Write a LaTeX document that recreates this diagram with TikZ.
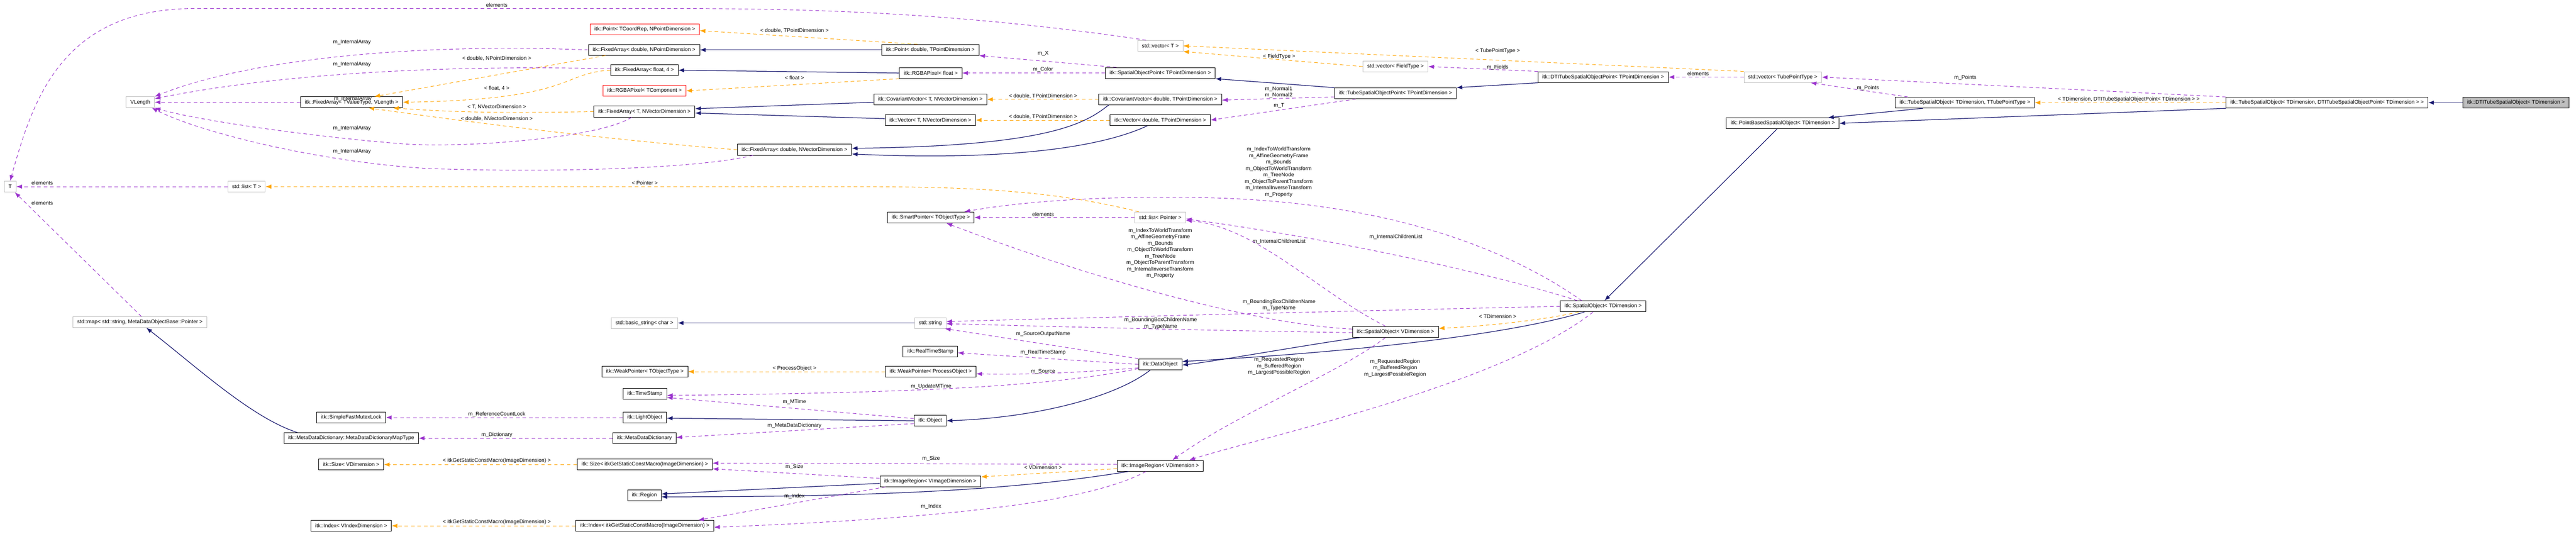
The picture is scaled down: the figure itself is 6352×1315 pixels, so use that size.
\documentclass[tikz,border=0pt]{standalone}
\usepackage{fontspec}
\setmainfont{Liberation Sans}
\usetikzlibrary{arrows.meta}
\definecolor{blue0}{HTML}{191970}
\definecolor{purp}{HTML}{9A32CD}
\definecolor{orng}{HTML}{FFA500}
\newcommand\dgfont{\fontsize{3.7}{4.5}\selectfont}
\tikzset{
 box/.style={draw=black, line width=0.35pt, fill=white, minimum height=7.6pt, inner xsep=3pt, inner ysep=0pt, font=\dgfont},
 gbox/.style={box, draw=black!25},
 rbox/.style={box, draw=red},
 inh/.style={draw=blue0, line width=0.45pt, -{Latex[length=4pt,width=3pt]}},
 use/.style={draw=purp, line width=0.35pt, dash pattern=on 2.5pt off 2pt, -{Latex[length=4pt,width=3pt]}},
 tpl/.style={draw=orng, line width=0.35pt, dash pattern=on 2.5pt off 2pt, -{Latex[length=4pt,width=3pt]}},
 lab/.style={font=\dgfont, inner sep=0pt, align=center},
}
\begin{document}
\begin{tikzpicture}[x=0.2834pt,y=-0.2834pt]
\useasboundingbox[fill=white] (0,0) rectangle (6352,1315);
% nodes
\node[gbox] (T) at (25,460) {T};
\node[gbox] (VLength) at (346,252) {VLength};
\node[box] (faTVL) at (867,252) {itk::FixedArray< TValueType, VLength >};
\node[gbox] (listT) at (608,460) {std::list< T >};
\node[gbox] (map) at (345,794) {std::map< std::string, MetaDataObjectBase::Pointer >};
\node[rbox] (pointT) at (1590,72) {itk::Point< TCoordRep, NPointDimension >};
\node[box] (faDNP) at (1588,123) {itk::FixedArray< double, NPointDimension >};
\node[box] (fa4) at (1589,173) {itk::FixedArray< float, 4 >};
\node[rbox] (rgbaT) at (1589,224) {itk::RGBAPixel< TComponent >};
\node[box] (faTNV) at (1589,275) {itk::FixedArray< T, NVectorDimension >};
\node[box] (faDNV) at (1959,369) {itk::FixedArray< double, NVectorDimension >};
\node[box] (ptD) at (2294,123) {itk::Point< double, TPointDimension >};
\node[box] (rgbaF) at (2295,180) {itk::RGBAPixel< float >};
\node[box] (covT) at (2294,245) {itk::CovariantVector< T, NVectorDimension >};
\node[box] (vecT2) at (2294,296) {itk::Vector< T, NVectorDimension >};
\node[box] (smart) at (2295,536) {itk::SmartPointer< TObjectType >};
\node[gbox] (vecT) at (2861,113) {std::vector< T >};
\node[box] (sop) at (2861,180) {itk::SpatialObjectPoint< TPointDimension >};
\node[box] (covD) at (2861,245) {itk::CovariantVector< double, TPointDimension >};
\node[box] (vecD) at (2861,296) {itk::Vector< double, TPointDimension >};
\node[gbox] (listP) at (2861,536) {std::list< Pointer >};
\node[box] (tubePt) at (3441,230) {itk::TubeSpatialObjectPoint< TPointDimension >};
\node[gbox] (vecField) at (3441,164) {std::vector< FieldType >};
\node[box] (dtiPt) at (3953,190) {itk::DTITubeSpatialObjectPoint< TPointDimension >};
\node[gbox] (vecTube) at (4396,190) {std::vector< TubePointType >};
\node[box] (pbso) at (4396,304) {itk::PointBasedSpatialObject< TDimension >};
\node[box] (tsoT) at (4845,253) {itk::TubeSpatialObject< TDimension, TTubePointType >};
\node[box] (tsoD) at (5738,253) {itk::TubeSpatialObject< TDimension, DTITubeSpatialObjectPoint< TDimension > >};
\node[box, fill=black!25] (dti) at (6204,253) {itk::DTITubeSpatialObject< TDimension >};
\node[box] (so) at (3953,755) {itk::SpatialObject< TDimension >};
\node[box] (soV) at (3441,818) {itk::SpatialObject< VDimension >};
\node[box] (sfml) at (866,1029) {itk::SimpleFastMutexLock};
\node[box] (mapType) at (866,1080) {itk::MetaDataDictionary::MetaDataDictionaryMapType};
\node[box] (sizeV) at (866,1145) {itk::Size< VDimension >};
\node[box] (indexV) at (866,1296) {itk::Index< VIndexDimension >};
\node[gbox] (bstr) at (1589,796) {std::basic\_string< char >};
\node[box] (wpT) at (1590,916) {itk::WeakPointer< TObjectType >};
\node[box] (ts) at (1590,971) {itk::TimeStamp};
\node[box] (lo) at (1590,1029) {itk::LightObject};
\node[box] (mdd) at (1589,1080) {itk::MetaDataDictionary};
\node[box] (sizeG) at (1590,1145) {itk::Size< itkGetStaticConstMacro(ImageDimension) >};
\node[box] (region) at (1589,1221) {itk::Region};
\node[box] (indexG) at (1590,1296) {itk::Index< itkGetStaticConstMacro(ImageDimension) >};
\node[box] (wpP) at (2295,916) {itk::WeakPointer< ProcessObject >};
\node[box] (imRegVI) at (2294,1186) {itk::ImageRegion< VImageDimension >};
\node[gbox] (str) at (2294,796) {std::string};
\node[box] (rts) at (2294,866) {itk::RealTimeStamp};
\node[box] (dobj) at (2861,898) {itk::DataObject};
\node[box] (obj) at (2294,1037) {itk::Object};
\node[box] (imReg) at (2861,1148) {itk::ImageRegion< VDimension >};
% edges
\draw[tpl] (tsoD.west) -- (tsoT.east);
\draw[inh] (dti.west) -- (tsoD.east);
\draw[inh] (tsoD.south west) -- (pbso.east);
\draw[inh] ([xshift=19.5pt]tsoT.south west) -- ([xshift=-8pt]pbso.north east);
\draw[use] (tsoD.north west) -- (vecTube.east);
\draw[use] ([xshift=9pt]tsoT.north west) -- ([xshift=19.5pt]vecTube.south);
\draw[use] (vecTube.west) -- (dtiPt.east);
\draw[tpl] (vecTube.north west) -- (vecT.east);
\draw[inh] (dtiPt.south west) -- (tubePt.north east);
\draw[use] (dtiPt.north west) -- (vecField.east);
\draw[tpl] (vecField.west) -- (vecT.south east);
\draw[use] ([xshift=6pt]vecT.north west) .. controls (2300,21) and (1900,21) .. (1600,21) -- (480,21) .. controls (150,21) and (80,250) .. (T.north);
\draw[inh] (tubePt.north west) -- (sop.south east);
\draw[use] ([yshift=-2.5pt]tubePt.west) -- ([yshift=-0.5pt]covD.east);
\draw[use] ([xshift=15pt]tubePt.south west) -- (vecD.east);
\draw[use] ([xshift=8pt]sop.north west) -- (ptD.south east);
\draw[use] (sop.west) -- (rgbaF.east);
\draw[tpl] ([xshift=-9pt]ptD.north) -- ([yshift=-1pt]pointT.east);
\draw[inh] (ptD.west) -- (faDNP.east);
\draw[inh] (rgbaF.west) -- (fa4.east);
\draw[tpl] (rgbaF.south west) -- (rgbaT.east);
\draw[tpl] (covD.west) -- (covT.east);
\draw[tpl] (vecD.west) -- (vecT2.east);
\draw[inh] ([xshift=7pt]covD.south west) .. controls (2680,300) and (2600,360) .. ([yshift=1pt]faDNV.east);
\draw[inh] ([xshift=-9pt]vecD.south) .. controls (2700,370) and (2450,395) .. ([yshift=-3pt]faDNV.east);
\draw[inh] ([yshift=-2pt]covT.west) -- ([yshift=2pt]faTNV.east);
\draw[inh] ([yshift=1pt]vecT2.west) -- ([yshift=-1pt]faTNV.east);
\draw[tpl] ([xshift=12pt]faDNP.south west) -- ([xshift=-20pt]faTVL.north east);
\draw[tpl] (fa4.west) .. controls (1380,180) and (1420,245) .. (faTVL.east);
\draw[tpl] (faTNV.west) .. controls (1200,280) and (1100,275) .. ([xshift=-7pt]faTVL.south east);
\draw[tpl] (faDNV.west) .. controls (1500,345) and (1150,300) .. ([xshift=-24pt]faTVL.south east);
\draw[use] (faTVL.west) -- (VLength.east);
\draw[use] (faDNP.west) .. controls (1000,105) and (600,150) .. (VLength.north east);
\draw[use] ([yshift=1pt]fa4.west) .. controls (1100,160) and (700,180) .. ([yshift=2.5pt]VLength.east);
\draw[use] ([xshift=-9pt]faTNV.south) .. controls (1480,340) and (1150,365) .. (1000,355) .. controls (800,340) and (500,300) .. (VLength.south east);
\draw[use] ([xshift=-29pt]faDNV.south) .. controls (1700,420) and (1300,425) .. (1050,415) .. controls (800,400) and (500,330) .. ([xshift=-2pt]VLength.south east);
\draw[tpl] ([xshift=3pt]listP.north west) .. controls (2600,470) and (2400,460) .. (2100,460) -- (listT.east);
\draw[use] (listT.west) -- (T.east);
\draw[use] (listP.west) -- (smart.east);
\draw[use] ([xshift=48pt]map.north west) -- ([xshift=-1pt]T.south east);
\draw[tpl] ([xshift=13pt]so.south west) .. controls (3800,790) and (3650,805) .. ([yshift=2.5pt]soV.east);
\draw[inh] ([xshift=-4pt]pbso.south) -- ([xshift=1pt]so.north);
\draw[use] ([xshift=-15pt]so.north) .. controls (3700,600) and (3400,500) .. (3000,488) .. controls (2700,480) and (2500,500) .. ([xshift=-7pt]smart.north east);
\draw[use] ([yshift=2pt]soV.west) .. controls (3100,800) and (2700,690) .. ([xshift=11pt]smart.south);
\draw[use] ([xshift=-18pt]so.north) .. controls (3700,680) and (3300,590) .. ([yshift=-1pt]listP.east);
\draw[use] ([xshift=-7pt]soV.north) .. controls (3250,720) and (3100,560) .. ([yshift=-2pt]listP.east);
\draw[use] (so.west) .. controls (3300,767) and (2800,780) .. ([yshift=1pt]str.east);
\draw[use] ([yshift=-0.5pt]soV.west) .. controls (3000,815) and (2600,805) .. ([yshift=-0.5pt]str.east);
\draw[inh] ([xshift=-13pt]so.south) .. controls (3700,830) and (3300,870) .. ([yshift=2pt]dobj.east);
\draw[inh] ([xshift=-25pt]soV.south) .. controls (3250,845) and (3000,890) .. ([yshift=-0.5pt]dobj.east);
\draw[use] ([xshift=-7pt]so.south) .. controls (3700,950) and (3100,1080) .. ([xshift=-10pt]imReg.north east);
\draw[use] ([xshift=-7pt]soV.south) .. controls (3300,920) and (3050,1020) .. ([xshift=8.5pt]imReg.north);
\draw[inh] (str.west) -- (bstr.east);
\draw[use] (dobj.north west) -- ([xshift=-1pt]str.south east);
\draw[use] (dobj.west) -- ([yshift=-1pt]rts.east);
\draw[use] ([yshift=1.5pt]dobj.south west) .. controls (2700,915) and (2550,925) .. ([yshift=-1.5pt]wpP.east);
\draw[use] ([yshift=1pt]dobj.south west) .. controls (2600,950) and (2300,968) .. ([yshift=-1pt]ts.east);
\draw[inh] ([xshift=-7pt]dobj.south) .. controls (2750,980) and (2550,1030) .. (obj.east);
\draw[tpl] (wpP.west) -- (wpT.east);
\draw[use] ([yshift=1.5pt]obj.west) -- ([yshift=-2.5pt]ts.east);
\draw[inh] (obj.west) -- ([yshift=-0.5pt]lo.east);
\draw[use] ([yshift=-2pt]obj.west) -- ([yshift=0.5pt]mdd.east);
\draw[use] (lo.west) -- (sfml.east);
\draw[use] (mdd.west) -- (mapType.east);
\draw[inh] ([xshift=9.6pt]mapType.north west) .. controls (620,1030) and (480,900) .. ([xshift=4.5pt]map.south);
\draw[use] ([yshift=1pt]imReg.west) -- ([yshift=1pt]sizeG.east);
\draw[tpl] ([yshift=-2pt]imReg.west) -- ([yshift=3pt]imRegVI.east);
\draw[inh] ([xshift=8pt]imReg.south west) .. controls (2550,1200) and (2250,1225) .. ([yshift=-1pt]region.east);
\draw[use] ([xshift=-10pt]imReg.south) .. controls (2700,1230) and (2400,1275) .. ([yshift=-1pt]indexG.east);
\draw[use] ([yshift=2pt]imRegVI.west) -- ([yshift=-3pt]sizeG.east);
\draw[inh] ([yshift=-1.5pt]imRegVI.west) -- ([yshift=1pt]region.east);
\draw[use] ([xshift=4pt]imRegVI.south west) -- ([xshift=-11pt]indexG.north east);
\draw[tpl] (sizeG.west) -- (sizeV.east);
\draw[tpl] (indexG.west) -- (indexV.east);
% labels
\node[lab] (l1) at (1225,12) {elements};
\node[lab] (l2) at (868,104) {m\_InternalArray};
\node[lab] (l3) at (868,159) {m\_InternalArray};
\node[lab] (l4) at (870,244) {m\_InternalArray};
\node[lab] (l5) at (868,316) {m\_InternalArray};
\node[lab] (l6) at (868,373) {m\_InternalArray};
\node[lab] (l7) at (104,451) {elements};
\node[lab] (l8) at (104,500) {elements};
\node[lab] (l9) at (1590,451) {< Pointer >};
\node[lab] (l10) at (1959,76) {< double, TPointDimension >};
\node[lab] (l11) at (1225,144) {< double, NPointDimension >};
\node[lab] (l12) at (1225,218) {< float, 4 >};
\node[lab] (l13) at (1959,192) {< float >};
\node[lab] (l14) at (1225,264) {< T, NVectorDimension >};
\node[lab] (l15) at (1225,293) {< double, NVectorDimension >};
\node[lab] (l16) at (2572,132) {m\_X};
\node[lab] (l17) at (2572,171) {m\_Color};
\node[lab] (l18) at (2572,237) {< double, TPointDimension >};
\node[lab] (l19) at (2572,288) {< double, TPointDimension >};
\node[lab] (l20) at (3153,227) {m\_Normal1\\m\_Normal2};
\node[lab] (l21) at (3154,261) {m\_T};
\node[lab] (l22) at (3154,139) {< FieldType >};
\node[lab] (l23) at (2572,528) {elements};
\node[lab] (l24) at (3153,424) {m\_IndexToWorldTransform\\m\_AffineGeometryFrame\\m\_Bounds\\m\_ObjectToWorldTransform\\m\_TreeNode\\m\_ObjectToParentTransform\\m\_InternalInverseTransform\\m\_Property};
\node[lab] (l25) at (2861,624) {m\_IndexToWorldTransform\\m\_AffineGeometryFrame\\m\_Bounds\\m\_ObjectToWorldTransform\\m\_TreeNode\\m\_ObjectToParentTransform\\m\_InternalInverseTransform\\m\_Property};
\node[lab] (l26) at (3154,595) {m\_InternalChildrenList};
\node[lab] (l27) at (3442,584) {m\_InternalChildrenList};
\node[lab] (l28) at (3693,126) {< TubePointType >};
\node[lab] (l29) at (3693,166) {m\_Fields};
\node[lab] (l30) at (4187,182) {elements};
\node[lab] (l31) at (4846,192) {m\_Points};
\node[lab] (l32) at (4606,217) {m\_Points};
\node[lab] (l33) at (5249,245) {< TDimension, DTITubeSpatialObjectPoint< TDimension > >};
\node[lab] (l34) at (1959,908) {< ProcessObject >};
\node[lab] (l35) at (1959,991) {m\_MTime};
\node[lab] (l36) at (1225,1021) {m\_ReferenceCountLock};
\node[lab] (l37) at (1959,1049) {m\_MetaDataDictionary};
\node[lab] (l38) at (1225,1072) {m\_Dictionary};
\node[lab] (l39) at (1225,1136) {< itkGetStaticConstMacro(ImageDimension) >};
\node[lab] (l40) at (1225,1287) {< itkGetStaticConstMacro(ImageDimension) >};
\node[lab] (l41) at (1959,1151) {m\_Size};
\node[lab] (l42) at (1959,1223) {m\_Index};
\node[lab] (l43) at (3154,752) {m\_BoundingBoxChildrenName\\m\_TypeName};
\node[lab] (l44) at (2862,797) {m\_BoundingBoxChildrenName\\m\_TypeName};
\node[lab] (l45) at (2572,823) {m\_SourceOutputName};
\node[lab] (l46) at (2572,869) {m\_RealTimeStamp};
\node[lab] (l47) at (2572,916) {m\_Source};
\node[lab] (l48) at (2296,952) {m\_UpdateMTime};
\node[lab] (l49) at (3154,903) {m\_RequestedRegion\\m\_BufferedRegion\\m\_LargestPossibleRegion};
\node[lab] (l50) at (3440,907) {m\_RequestedRegion\\m\_BufferedRegion\\m\_LargestPossibleRegion};
\node[lab] (l51) at (2296,1131) {m\_Size};
\node[lab] (l52) at (2572,1152) {< VDimension >};
\node[lab] (l53) at (2296,1248) {m\_Index};
\node[lab] (l54) at (3693,780) {< TDimension >};
\end{tikzpicture}
\end{document}
